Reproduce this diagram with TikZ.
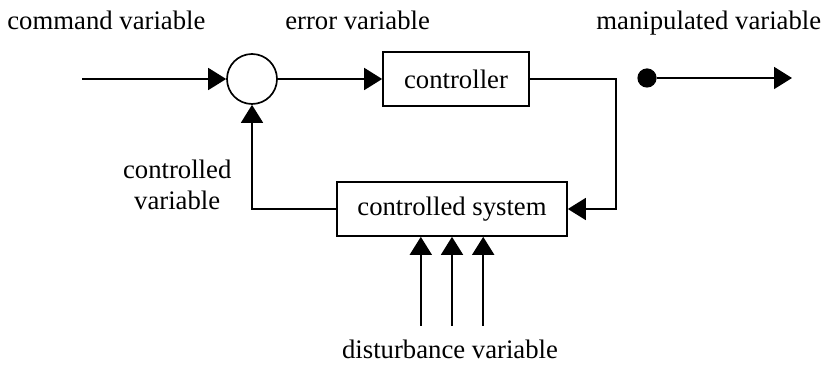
\documentclass[tikz,border=0pt]{standalone}
\usepackage{fontspec}
\setmainfont{Liberation Serif}
\usetikzlibrary{arrows.meta,positioning,calc}

\begin{document}
\begin{tikzpicture}[
    font=\fontsize{19}{22.7}\selectfont,
    block/.style={rectangle, draw=black, line width=1.2pt, minimum height=1.35cm, align=center},
    junction/.style={circle, draw=black, line width=1.2pt, minimum size=1.25cm, inner sep=0pt},
    dot/.style={circle, fill=black, minimum size=0.48cm, inner sep=0pt},
    signal/.style={-{Triangle[length=0.45cm,width=0.55cm]}, line width=1.2pt},
    label/.style={anchor=base, inner sep=0pt, align=center}
]
\useasboundingbox (0,0) rectangle (20.7,9.15);

% Summing point and the two blocks
\node[junction] (sum) at (6.3, 7.175) {};
\node[block, minimum width=3.65cm] (ctrl) at (11.4, 7.175) {controller};
\node[block, minimum width=5.75cm] (plant) at (11.3, 3.925) {controlled system};

% Forward path
\coordinate (in) at (2.05, 7.175);
\draw[signal] (in) -- (sum);
\draw[signal] (sum) -- (ctrl);

% Controller output goes round into the plant
\coordinate (bend) at (15.4, 7.175);
\draw[signal] (ctrl.east) -- (bend) |- (plant.east);

% Feedback of the controlled variable
\draw[signal] (plant.west) -| (sum.south);

% Disturbances acting on the plant
\foreach \i/\dx in {1/-0.78, 2/0, 3/0.78} {
    \coordinate (d\i) at ($(plant.south)+(\dx,-2.225)$);
    \draw[signal] (d\i) -- (d\i |- plant.south);
}

% Manipulated variable
\node[dot] (mv) at (16.175, 7.2) {};
\coordinate (mvend) at (19.8, 7.2);
\draw[signal] (mv) -- (mvend);

% Labels (base of a two-line label is its last line)
\node[label] (cmd) at (2.66, 8.4) {command variable};
\node[label] (err) at (8.94, 8.4) {error variable};
\node[label] (man) at (17.72, 8.4) {manipulated variable};
\node[label] (cv) at (4.43, 3.9) {controlled\\variable};
\node[label] (dist) at (11.25, 0.2) {disturbance variable};

\end{tikzpicture}
\end{document}
